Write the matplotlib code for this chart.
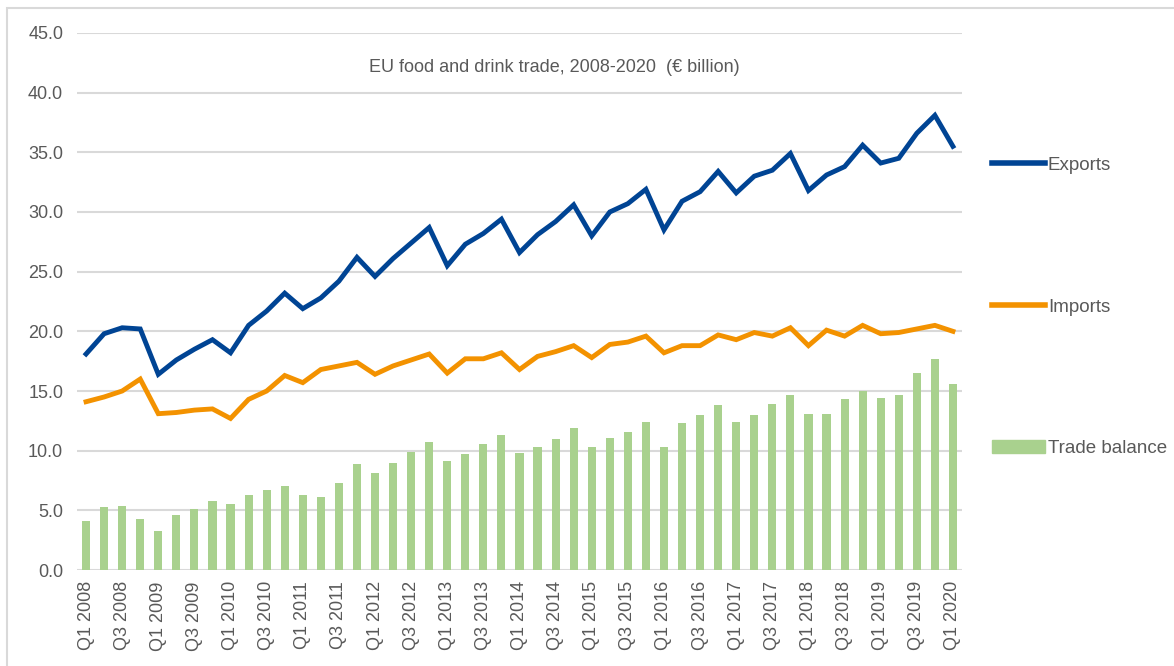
import numpy as np
import matplotlib
matplotlib.use("Agg")
import matplotlib.pyplot as plt
from matplotlib.lines import Line2D
from matplotlib.patches import Patch, Rectangle

plt.rcParams['font.family'] = ['Liberation Sans', 'DejaVu Sans']

# Q1 2008 .. Q1 2020
quarters = [f"Q{q} {y}" for y in range(2008, 2021) for q in range(1, 5)][:49]

exports = [18.1, 19.8, 20.3, 20.2, 16.4, 17.6, 18.5, 19.3, 18.2, 20.5, 21.7, 23.2,
           21.9, 22.8, 24.2, 26.2, 24.6, 26.1, 27.4, 28.7, 25.5, 27.3, 28.2, 29.4,
           26.6, 28.1, 29.2, 30.6, 28.0, 30.0, 30.7, 31.9, 28.5, 30.9, 31.7, 33.4,
           31.6, 33.0, 33.5, 34.9, 31.8, 33.1, 33.8, 35.6, 34.1, 34.5, 36.6, 38.1,
           35.5]
imports = [14.1, 14.5, 15.0, 16.0, 13.1, 13.2, 13.4, 13.5, 12.7, 14.3, 15.0, 16.3,
           15.7, 16.8, 17.1, 17.4, 16.4, 17.1, 17.6, 18.1, 16.5, 17.7, 17.7, 18.2,
           16.8, 17.9, 18.3, 18.8, 17.8, 18.9, 19.1, 19.6, 18.2, 18.8, 18.8, 19.7,
           19.3, 19.9, 19.6, 20.3, 18.8, 20.1, 19.6, 20.5, 19.8, 19.9, 20.2, 20.5,
           20.0]
balance = [4.1, 5.3, 5.4, 4.3, 3.3, 4.6, 5.1, 5.8, 5.5, 6.3, 6.7, 7.0,
           6.3, 6.1, 7.3, 8.9, 8.1, 9.0, 9.9, 10.7, 9.1, 9.7, 10.6, 11.3,
           9.8, 10.3, 11.0, 11.9, 10.3, 11.1, 11.6, 12.4, 10.3, 12.3, 13.0, 13.8,
           12.4, 13.0, 13.9, 14.7, 13.1, 13.1, 14.3, 15.0, 14.4, 14.7, 16.5, 17.7,
           15.6]

c_exp = "#004494"
c_imp = "#F39200"
c_bal = "#A9D18E"
c_txt = "#595959"
c_grid = "#D9D9D9"

fig = plt.figure(figsize=(11.74, 6.66), dpi=100)
ax = fig.add_axes([0.0656, 0.1441, 0.7538, 0.8064])

x = np.arange(len(quarters))
ax.bar(x, balance, width=0.45, color=c_bal, zorder=2)
ax.plot(x, exports, color=c_exp, lw=3.5, solid_joinstyle='miter', zorder=3)
ax.plot(x, imports, color=c_imp, lw=3.5, solid_joinstyle='miter', zorder=3)

ax.set_xlim(-0.5, len(quarters) - 0.5)
ax.set_ylim(0, 45)
ax.set_yticks(np.arange(0, 45.1, 5))
ax.set_yticklabels([f"{v:.1f}" for v in np.arange(0, 45.1, 5)])
ax.set_xticks(x[::2])
ax.set_xticklabels(quarters[::2], rotation=90)
ax.tick_params(axis='both', length=0, labelsize=13, labelcolor=c_txt)
ax.tick_params(axis='x', pad=8)
ax.tick_params(axis='y', pad=10)
ax.grid(axis='y', color=c_grid, lw=1.5, zorder=0)
ax.set_axisbelow(True)
for s in ax.spines.values():
    s.set_visible(False)

ax.text(0.539, 0.936, "EU food and drink trade, 2008-2020  (\u20ac billion)",
        transform=ax.transAxes, ha='center', va='center', fontsize=13, color=c_txt)

handles = [Line2D([], [], color=c_exp, lw=4),
           Line2D([], [], color=c_imp, lw=4),
           Patch(color=c_bal)]
leg = fig.legend(handles, ["Exports", "Imports", "Trade balance"],
                 loc='upper left', bbox_to_anchor=(0.831, 0.79),
                 frameon=False, fontsize=13.5, handlelength=2.8,
                 handletextpad=0.15, labelspacing=6.65)
for t in leg.get_texts():
    t.set_color(c_txt)

fig.patches.append(Rectangle((0.006, -0.1), 1.1, 1.088, transform=fig.transFigure,
                             fill=False, ec="#D9D9D9", lw=1.5))

fig.savefig("out.png", dpi=100)
